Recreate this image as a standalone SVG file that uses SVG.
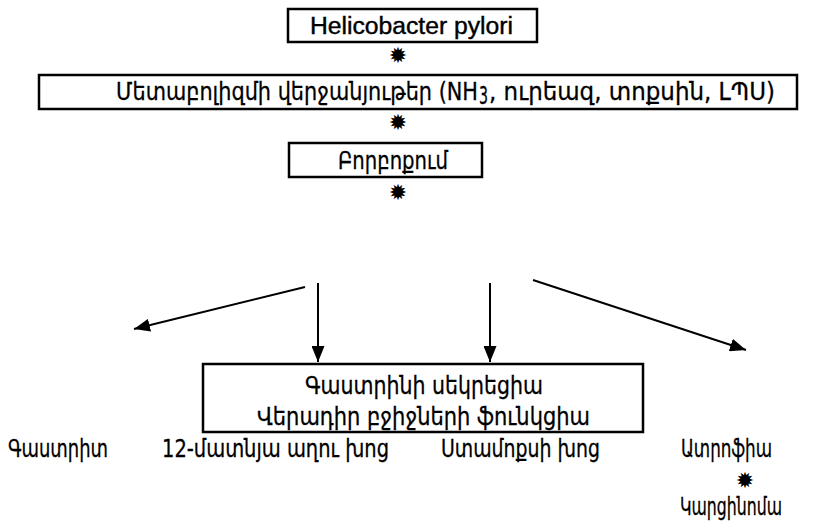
<svg xmlns="http://www.w3.org/2000/svg" width="822" height="526" viewBox="0 0 822 526">
<defs>
<style>
.box{fill:#fff;stroke:#000;stroke-width:2.5}
.t{font-family:"Liberation Sans","DejaVu Sans",sans-serif;font-size:23px;fill:#000;stroke:#000;stroke-width:0.4}
.a{font-family:"DejaVu Sans",sans-serif;font-size:25px;fill:#000;stroke:#000;stroke-width:0.3}
.m{text-anchor:middle}
.s{font-family:"DejaVu Sans",sans-serif;font-size:22px;fill:#000;text-anchor:middle}
.c{stroke:#000;stroke-width:2;fill:none;marker-end:url(#ah)}
</style>
<marker id="ah" viewBox="0 0 16 13" refX="16" refY="6.5" markerWidth="16" markerHeight="13" markerUnits="userSpaceOnUse" orient="auto">
<path d="M0,0 L16,6.5 L0,13 z" fill="#000"/>
</marker>
</defs>
<g id="n1">
<rect class="box" x="288" y="9" width="249" height="33"/>
<text class="t" x="310" y="34" textLength="203" lengthAdjust="spacingAndGlyphs">Helicobacter pylori</text>
</g>
<g id="n2">
<rect class="box" x="39" y="75" width="758" height="34"/>
<text class="a" x="116" y="100" font-size="22" textLength="362" lengthAdjust="spacingAndGlyphs">Մետաբոլիզմի վերջանյութեր (NH</text>
<text class="a" x="479" y="104" font-size="14" textLength="9" lengthAdjust="spacingAndGlyphs">3</text>
<text class="a" x="489" y="100" font-size="22" textLength="286" lengthAdjust="spacingAndGlyphs">, ուրեազ, տոքսին, ԼՊՍ)</text>
</g>
<g id="n3">
<rect class="box" x="289" y="143" width="193" height="34"/>
<text class="a" x="338" y="169" textLength="110" lengthAdjust="spacingAndGlyphs">Բորբոքում</text>
</g>
<g id="stars">
<text class="s" x="398" y="63">✹</text>
<text class="s" x="398" y="130">✹</text>
<text class="s" x="398" y="200">✹</text>
<text class="s" x="745" y="488">✹</text>
</g>
<g id="connectors">
<line class="c" x1="305" y1="287" x2="134" y2="329"/>
<line class="c" x1="318" y1="283" x2="318" y2="362"/>
<line class="c" x1="490" y1="283" x2="490" y2="362"/>
<line class="c" x1="533" y1="280" x2="746" y2="350"/>
</g>
<g id="n4">
<rect class="box" x="203" y="364" width="440" height="68"/>
<text class="a" x="305" y="394" textLength="238" lengthAdjust="spacingAndGlyphs">Գաստրինի սեկրեցիա</text>
<text class="a" x="257" y="425" textLength="333" lengthAdjust="spacingAndGlyphs">Վերադիր բջիջների ֆունկցիա</text>
</g>
<g id="n5">
<text class="a" x="8" y="457" textLength="100" lengthAdjust="spacingAndGlyphs">Գաստրիտ</text>
</g>
<g id="n6">
<text class="a" x="162" y="457" textLength="227" lengthAdjust="spacingAndGlyphs">12-մատնյա աղու խոց</text>
</g>
<g id="n7">
<text class="a" x="441" y="457" textLength="159" lengthAdjust="spacingAndGlyphs">Ստամոքսի խոց</text>
</g>
<g id="n8">
<text class="a" x="681" y="457" textLength="91" lengthAdjust="spacingAndGlyphs">Ատրոֆիա</text>
</g>
<g id="n9">
<text class="a" x="680" y="515" font-size="21" textLength="102" lengthAdjust="spacingAndGlyphs">Կարցինոմա</text>
</g>
</svg>
